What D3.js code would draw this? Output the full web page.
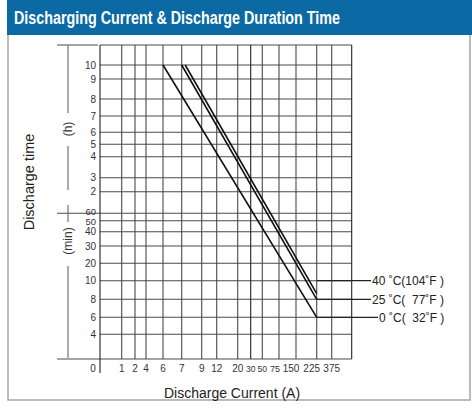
<!DOCTYPE html>
<meta charset="utf-8">
<style>
    body { margin: 0; background: #fff; }
    svg text { font-family: "Liberation Sans", Arial, sans-serif; }
</style>
<body>
<svg width="472" height="408"></svg>
<script src="https://d3js.org/d3.v7.min.js"></script>
<script>
    // ticks of the x axis (current, A) and y axis (hours then minutes)
    const currentTicks = [0, 1, 2, 4, 6, 7, 9, 12, 20, 30, 50, 75, 150, 225, 375];
    const hourTicks = [10, 9, 8, 7, 6, 5, 4, 3, 2];
    const minuteTicks = [60, 50, 40, 30, 20, 10, 8, 6, 4];

    // one straight line per temperature : start (A, min) -> end (A, min)
    const seriesNames = ["40 ˚C(104˚F )", "25 ˚C(  77˚F )", "0 ˚C(  32˚F )"];
    const startCurrent = [7.35, 7, 6];
    const startMinutes = [600, 600, 600];
    const endCurrent = [225, 225, 225];
    const endMinutes = [8.6, 8, 6];
    const labelMinutes = [10, 8, 6];

    const svg = d3.select("svg");

    // non uniform grid of the original chart -> piecewise scales
    const x = d3.scaleLinear()
        .domain([0, 1, 2, 4, 6, 7, 9, 12, 20, 30, 50, 75, 150, 225, 375, 600])
        .range([100, 121.7, 135, 146, 163, 181.7, 201.7, 216.7, 237.7, 250.7, 262.3, 279, 296, 316.7, 331.7, 351.7]);

    const y = d3.scaleLinear()
        .domain([0, 4, 6, 8, 10, 20, 30, 40, 50, 60, 120, 180, 240, 300, 360, 420, 480, 540, 600, 720])
        .range([359, 334.3, 317.3, 299.3, 280.7, 263.3, 246, 231.7, 220.7, 213.3, 191.7, 177.7, 156.7, 144.3, 132.3, 116, 99, 79, 65, 45]);

    const x0 = x(0), x1 = x(600), yTop = y(720), yBot = y(0);

    // frame + header
    svg.append("rect").attr("x", 8).attr("y", 0).attr("width", 462).attr("height", 400)
        .attr("fill", "none").attr("stroke", "#a5a5a5").attr("stroke-width", 1.5);
    svg.append("rect").attr("x", 7).attr("y", 0).attr("width", 465).attr("height", 35).attr("fill", "#0b69a3");
    svg.append("text").attr("x", 14).attr("y", 24)
        .attr("fill", "#fff").attr("font-size", 18).attr("font-weight", "bold")
        .style("font-family", "'Liberation Sans Narrow', 'Arial Narrow', 'Liberation Sans', Arial, sans-serif")
        .attr("textLength", 326).attr("lengthAdjust", "spacingAndGlyphs")
        .text("Discharging Current & Discharge Duration Time");

    const grid = svg.append("g").attr("stroke", "#4a4a4a").attr("stroke-width", 1.1);

    // horizontal grid lines
    const yValues = hourTicks.map(h => h * 60).concat(minuteTicks);
    grid.selectAll(".h").data(yValues).join("line")
        .attr("x1", d => d === 60 ? 57 : x0).attr("x2", x1)
        .attr("y1", d => y(d)).attr("y2", d => y(d));
    grid.append("line").attr("x1", 57).attr("x2", 98).attr("y1", yTop).attr("y2", yTop);
    grid.append("line").attr("x1", x0).attr("x2", x1).attr("y1", yTop).attr("y2", yTop);
    grid.append("line").attr("x1", 57).attr("x2", x1).attr("y1", yBot).attr("y2", yBot);

    // vertical grid lines
    grid.selectAll(".v").data(currentTicks.slice(1)).join("line")
        .attr("x1", d => x(d)).attr("x2", d => x(d))
        .attr("y1", yTop).attr("y2", yBot)
        .attr("stroke", d => d === 30 ? "#222" : null);
    grid.append("line").attr("x1", x1).attr("x2", x1).attr("y1", yTop).attr("y2", yBot).attr("stroke", "#222");
    grid.append("line").attr("x1", x0).attr("x2", x0).attr("y1", yTop).attr("y2", 373).attr("stroke", "#222");

    // bracket on the left of the y labels
    const bracket = [[45, 113], [146, 190], [205, 222], [266, 358]];
    grid.selectAll(".b").data(bracket).join("line")
        .attr("x1", 68).attr("x2", 68).attr("y1", d => d[0]).attr("y2", d => d[1])
        .attr("stroke", "#666");

    // y tick labels
    const yLab = svg.append("g").attr("fill", "#333").attr("font-size", 10).attr("text-anchor", "end");
    yLab.selectAll("text").data(hourTicks.map(h => [h * 60, h]).concat(minuteTicks.map(m => [m, m]))).join("text")
        .attr("x", 96)
        .attr("y", d => y(d[0]) + (d[0] === 60 && d[1] === 60 ? 1.2 : d[0] === 50 ? 4.4 : 3.6))
        .attr("font-size", d => (d[1] === 60 || d[1] === 50) ? 9.5 : null)
        .text(d => d[1]);

    // x tick labels
    const xShift = { 0: -7, 75: -4, 150: -5, 225: -5 };
    svg.append("g").attr("fill", "#333").attr("font-size", 10).attr("text-anchor", "middle")
        .selectAll("text").data(currentTicks).join("text")
        .attr("x", d => x(d) + (xShift[d] || 0))
        .attr("y", 372)
        .attr("font-size", d => (d === 30 || d === 50) ? 8.5 : d === 75 ? 9 : null)
        .text(d => d);

    // axis titles
    svg.append("text").attr("x", 232).attr("y", 398).attr("text-anchor", "middle")
        .attr("font-size", 14).attr("fill", "#222").text("Discharge Current (A)");
    svg.append("text").attr("transform", "translate(34,182) rotate(-90)").attr("text-anchor", "middle")
        .attr("font-size", 14.5).attr("fill", "#222").text("Discharge time");
    svg.append("text").attr("transform", "translate(72,129) rotate(-90)").attr("text-anchor", "middle")
        .attr("font-size", 12).attr("fill", "#333").text("(h)");
    svg.append("text").attr("transform", "translate(72,241) rotate(-90)").attr("text-anchor", "middle")
        .attr("font-size", 12).attr("fill", "#333").text("(min)");

    // discharge lines
    const series = seriesNames.map((name, i) => ({
        name,
        pts: [[startCurrent[i], startMinutes[i]], [endCurrent[i], endMinutes[i]]],
        label: labelMinutes[i]
    }));
    const line = d3.line().x(d => x(d[0])).y(d => y(d[1]));
    svg.append("g").selectAll("path").data(series).join("path")
        .attr("d", d => line(d.pts))
        .attr("fill", "none").attr("stroke", "#111").attr("stroke-width", 1.6);

    // leaders + labels
    const labX = [371, 371, 378];
    svg.append("g").selectAll("line").data(series).join("line")
        .attr("x1", d => x(d.pts[1][0])).attr("x2", (d, i) => labX[i])
        .attr("y1", d => y(d.label)).attr("y2", d => y(d.label))
        .attr("stroke", "#222").attr("stroke-width", 1.3);
    svg.append("g").selectAll("text").data(series).join("text")
        .attr("x", (d, i) => labX[i] + 1).attr("y", d => y(d.label) + 4.3)
        .attr("font-size", 12).attr("fill", "#222").style("white-space", "pre")
        .text(d => d.name);
</script>
</body>
